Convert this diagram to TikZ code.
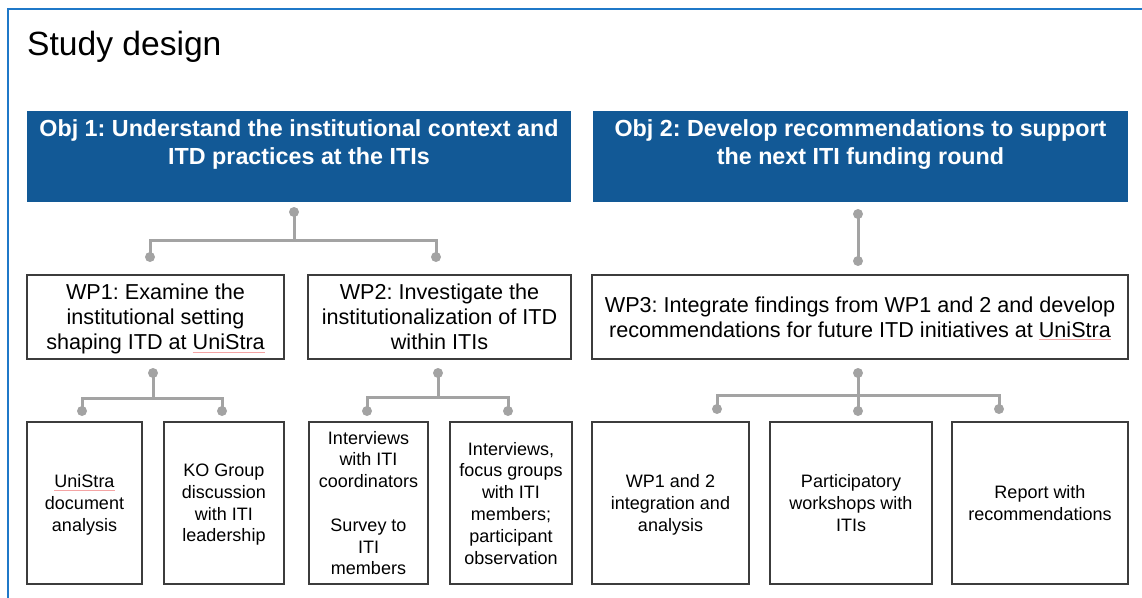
\documentclass[tikz,border=0pt]{standalone}
\usepackage{fontspec}
\setmainfont{Liberation Sans}
\definecolor{framec}{HTML}{1F78C8}
\definecolor{objc}{HTML}{125996}
\definecolor{connc}{HTML}{A3A3A3}
\definecolor{boxc}{HTML}{3C3C3C}
\definecolor{spellc}{HTML}{F4A4A4}
\newcommand\spellerr[1]{\setbox0\hbox{#1}\rlap{\textcolor{spellc}{\rule[-2.5pt]{\wd0}{0.6pt}}}\box0}
\frenchspacing
\begin{document}
\begin{tikzpicture}[x=1pt,y=-1pt,
  objbox/.style={fill=objc,draw=none,minimum height=91pt,inner sep=0pt},
  objtext/.style={text=white,font=\fontsize{23.3}{28}\selectfont\bfseries,align=center,inner sep=0pt},
  textbox/.style={draw=boxc,line width=1.3pt,fill=white,inner sep=0pt,align=center,
    text depth=0pt,execute at begin node={\rule{0pt}{0.95em}}},
  wpbox/.style={textbox,minimum height=84pt,font=\fontsize{21.6}{25}\selectfont},
  leafbox/.style={textbox,minimum height=162pt,font=\fontsize{18}{21.8}\selectfont},
  conn/.style={draw=connc,line width=3pt},
  dot/.style={circle,fill=connc,inner sep=0pt,minimum size=10pt}]
\useasboundingbox (0,0) rectangle (1142,597);
\clip (0,0) rectangle (1142,597);
\draw[framec,line width=2.2pt] (8,9) rectangle (1160,620);
\node[anchor=base west,inner sep=0pt,font=\fontsize{33.6}{40}\selectfont] (title) at (27,55) {Study design};

% objectives
\node[objbox,minimum width=544pt] (obj1) at (299,156.5) {};
\node[objtext] (obj1t) at (299,144.5) {Obj 1: Understand the institutional context and\\ITD practices at the ITIs};
\node[objbox,minimum width=535pt] (obj2) at (860.5,156.5) {};
\node[objtext] (obj2t) at (860.5,144.5) {Obj 2: Develop recommendations to support\\the next ITI funding round};

% work packages
\node[wpbox,minimum width=257pt] (wp1) at (155.5,317) {WP1: Examine the\\institutional setting\\shaping ITD at \spellerr{UniStra}};
\node[wpbox,minimum width=263pt] (wp2) at (439.5,317) {WP2: Investigate the\\institutionalization of ITD\\within ITIs};
\node[wpbox,minimum width=536pt] (wp3) at (860,317) {WP3: Integrate findings from WP1 and 2 and develop\\recommendations for future ITD initiatives at \spellerr{UniStra}};

% leaves
\node[leafbox,minimum width=115pt] (b1) at (84.5,503) {\spellerr{UniStra}\\document\\analysis};
\node[leafbox,minimum width=120pt] (b2) at (224,503) {KO Group\\discussion\\with ITI\\leadership};
\node[leafbox,minimum width=119pt] (b3) at (368.5,503) {Interviews\\with ITI\\coordinators\\[21.8pt]Survey to\\ITI\\members};
\node[leafbox,minimum width=122pt] (b4) at (511,503) {Interviews,\\focus groups\\with ITI\\members;\\participant\\observation};
\node[leafbox,minimum width=157pt] (b5) at (670.5,503) {WP1 and 2\\integration and\\analysis};
\node[leafbox,minimum width=162pt] (b6) at (851,503) {Participatory\\workshops with\\ITIs};
\node[leafbox,minimum width=176pt] (b7) at (1040,503) {Report with\\recommendations};

% connector dots
\node[dot] (d1) at (294,212) {};
\node[dot] (d1a) at (150,257) {};
\node[dot] (d1b) at (436,257) {};
\node[dot] (d2) at (858,214) {};
\node[dot] (d2a) at (858,261) {};
\node[dot] (d3) at (153,373) {};
\node[dot] (d3a) at (82,411) {};
\node[dot] (d3b) at (222,411) {};
\node[dot] (d4) at (438,373) {};
\node[dot] (d4a) at (367,411) {};
\node[dot] (d4b) at (508,411) {};
\node[dot] (d5) at (858,373) {};
\node[dot] (d5a) at (717,409) {};
\node[dot] (d5b) at (858,411) {};
\node[dot] (d5c) at (999,409) {};

% connectors
\draw[conn] (d1.center) -- (d1.center |- 0,240);
\draw[conn] (d1a.center) |- (d1b.center |- 0,240) -- (d1b.center);
\draw[conn] (d2.center) -- (d2a.center);
\draw[conn] (d3.center) -- (d3.center |- 0,398);
\draw[conn] (d3a.center) |- (d3b.center |- 0,398) -- (d3b.center);
\draw[conn] (d4.center) -- (d4.center |- 0,397);
\draw[conn] (d4a.center) |- (d4b.center |- 0,397) -- (d4b.center);
\draw[conn] (d5.center) -- (d5b.center);
\draw[conn] (d5a.center) |- (d5c.center |- 0,395) -- (d5c.center);
\end{tikzpicture}
\end{document}
